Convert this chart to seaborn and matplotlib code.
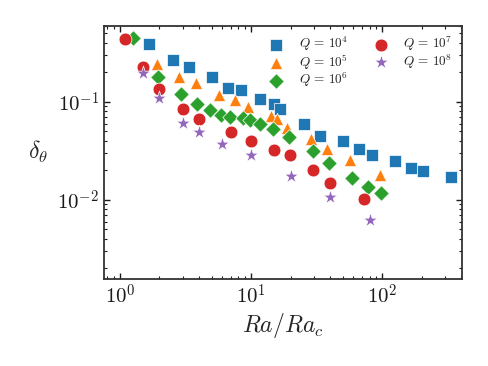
import math
import matplotlib
matplotlib.use("Agg")
import matplotlib.pyplot as plt
from matplotlib.ticker import FuncFormatter, LogLocator, NullFormatter
import seaborn as sns
import pandas as pd

# ---- data ----
ra_q4 = [1.67, 2.53, 3.35, 5.04, 6.71, 8.39, 11.75, 15.06, 16.74, 25.1, 33.6, 50.6, 67.1, 84.2, 126, 166, 206, 336]
d_q4 = [0.391, 0.270, 0.229, 0.1786, 0.1373, 0.1310, 0.1073, 0.0950, 0.0854, 0.0596, 0.0450, 0.0402, 0.0329, 0.0290, 0.0250, 0.0212, 0.0198, 0.0172]

ra_q5 = [1.91, 2.84, 3.80, 5.68, 7.57, 9.54, 14.14, 15.71, 18.93, 28.7, 38.0, 57.0, 95.4]
d_q5 = [0.244, 0.1786, 0.1574, 0.1185, 0.1048, 0.0895, 0.0720, 0.0676, 0.0539, 0.0422, 0.0329, 0.0256, 0.0180]

ra_q6 = [1.26, 1.96, 2.92, 3.89, 4.86, 5.87, 6.89, 8.73, 9.83, 11.71, 14.59, 19.57, 29.5, 39.4, 58.7, 78.2, 98.3]
d_q6 = [0.447, 0.1786, 0.1207, 0.0947, 0.0829, 0.0740, 0.0708, 0.0682, 0.0655, 0.0596, 0.0530, 0.0441, 0.0314, 0.0237, 0.0169, 0.01367, 0.01187]

ra_q7 = [1.09, 1.49, 2.0, 3.0, 4.0, 7.0, 10.0, 14.9, 19.9, 29.9, 39.9, 72.0]
d_q7 = [0.436, 0.2275, 0.1348, 0.0848, 0.0671, 0.0498, 0.0397, 0.0324, 0.0286, 0.0202, 0.0150, 0.0103]

ra_q8 = [1.5, 2.0, 3.0, 4.0, 6.0, 10.0, 20.0, 40.0, 80.0]
d_q8 = [0.199, 0.1099, 0.0606, 0.0491, 0.0375, 0.0288, 0.0177, 0.0108, 0.00625]

labels = [r"$Q\,=\,10^4$", r"$Q\,=\,10^5$", r"$Q\,=\,10^6$", r"$Q\,=\,10^7$", r"$Q\,=\,10^8$"]
markers = ["s", "^", "D", "o", "*"]
sizes = [72, 78, 62, 85, 115]

series = [(ra_q4, d_q4), (ra_q5, d_q5), (ra_q6, d_q6), (ra_q7, d_q7), (ra_q8, d_q8)]

sns.set_style("ticks")
plt.rcParams["mathtext.fontset"] = "cm"
plt.rcParams["font.family"] = ["DejaVu Sans"]

palette = sns.color_palette("tab10")
colors = [palette[0], palette[1], palette[2], palette[3], palette[4]]

fig = plt.figure(figsize=(4.88, 3.66), dpi=100)
ax = fig.add_axes([0.2125, 0.238, 0.947 - 0.2125, 0.930 - 0.238])

for (xs, ys), lab, m, c, s in zip(series, labels, markers, colors, sizes):
    df = pd.DataFrame({"x": xs, "y": ys})
    sns.scatterplot(data=df, x="x", y="y", ax=ax, marker=m, color=c, s=s,
                    label=lab, edgecolor="white", linewidth=0.5, zorder=3)

ax.set_xscale("log")
ax.set_yscale("log")
ax.set_xlim(0.751, 407)
ax.set_ylim(0.00156, 0.601)

fmt = FuncFormatter(lambda v, p: r"$10^{%d}$" % round(math.log10(v)))
ax.xaxis.set_major_locator(LogLocator(base=10))
ax.yaxis.set_major_locator(LogLocator(base=10))
ax.xaxis.set_major_formatter(fmt)
ax.yaxis.set_major_formatter(fmt)
ax.xaxis.set_minor_formatter(NullFormatter())
ax.yaxis.set_minor_formatter(NullFormatter())

ax.tick_params(which="both", direction="in", top=True, right=True, labelsize=15, colors="0.1")
ax.tick_params(which="major", length=4, width=1)
ax.tick_params(which="minor", length=2, width=0.8)
for sp in ax.spines.values():
    sp.set_linewidth(1.3)
    sp.set_color("0.2")

ax.set_xlabel(r"$Ra/Ra_c$", fontsize=17, labelpad=2)
ax.set_ylabel(r"$\delta_\theta$", fontsize=17, rotation=0, labelpad=14, va="center")

ax.legend(ncol=2, frameon=False, loc="upper right", fontsize=9.5,
          handletextpad=0.7, columnspacing=1.5, labelspacing=-0.05,
          borderaxespad=0.3, bbox_to_anchor=(1.0, 1.0))

fig.savefig("out.png", dpi=100)
